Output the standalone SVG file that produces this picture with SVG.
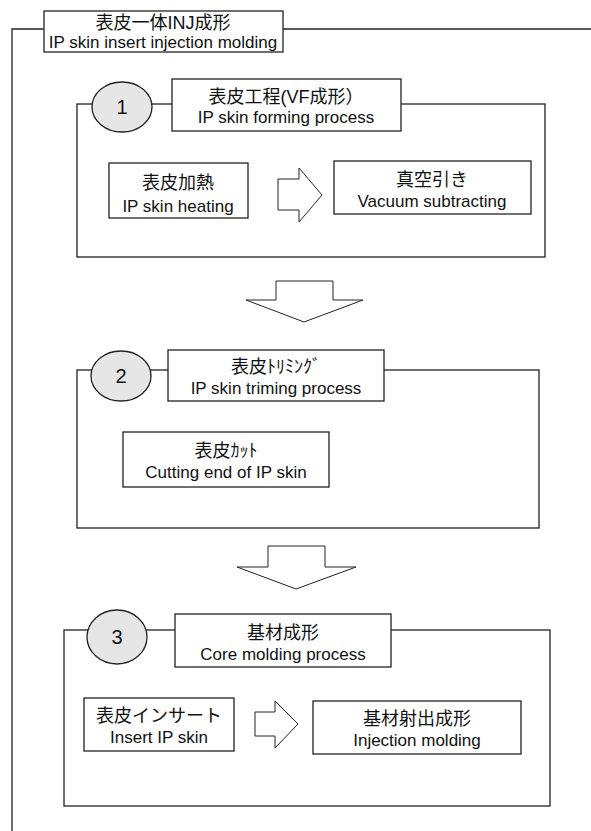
<svg xmlns="http://www.w3.org/2000/svg" width="591" height="831" viewBox="0 0 591 831">
<style>
.ln{fill:none;stroke:#222;stroke-width:1.3}
.bx{fill:#fff;stroke:#222;stroke-width:1.3}
.cc{fill:#e6e6e6;stroke:#222;stroke-width:1.3}
.ar{fill:#fff;stroke:#222;stroke-width:1}
.jp{font-family:"Liberation Sans","Noto Sans CJK JP",sans-serif;font-size:18px;fill:#111;text-anchor:middle}
.en{font-family:"Liberation Sans","Noto Sans CJK JP",sans-serif;font-size:17px;fill:#111;text-anchor:middle}
.num{font-family:"Liberation Sans",sans-serif;font-size:20px;fill:#111;text-anchor:middle}
</style>
<rect width="591" height="831" fill="#fff"/>
<g id="connectors">
<polyline class="ln" points="44,29 12,29 12,831"/>
<line class="ln" x1="283" y1="29" x2="591" y2="29"/>
<polygon id="arrow-r1" class="ar" points="278,179 299,179 299,168 322,195 299,222 299,210 278,210"/>
<polygon id="arrow-d1" class="ar" points="276,281 333,281 333,300 363,300 304,322 246,300 276,300"/>
<polygon id="arrow-d2" class="ar" points="268,546 325,546 325,567 356,567 296,589 237,567 268,567"/>
<polygon id="arrow-r3" class="ar" points="255,712 275,712 275,701 298,724 275,748 275,736 255,736"/>
</g>
<g id="title">
<rect class="bx" x="44" y="11" width="239" height="41"/>
<text class="jp" x="163" y="29">表皮一体INJ成形</text>
<text class="en" x="163" y="48">IP skin insert injection molding</text>
</g>
<g id="section1">
<rect class="ln" x="77" y="104" width="468" height="153"/>
<ellipse class="cc" cx="122" cy="107" rx="30" ry="25"/>
<text class="num" x="122" y="114">1</text>
<rect class="bx" x="172" y="79" width="229" height="52"/>
<text class="jp" x="286" y="103">表皮工程(VF成形）</text>
<text class="en" x="286" y="123">IP skin forming process</text>
</g>
<g id="node-heating">
<rect class="bx" x="109" y="163" width="139" height="55"/>
<text class="jp" x="178" y="189">表皮加熱</text>
<text class="en" x="178" y="212">IP skin heating</text>
</g>
<g id="node-vacuum">
<rect class="bx" x="334" y="161" width="197" height="53"/>
<text class="jp" x="432" y="186">真空引き</text>
<text class="en" x="432" y="207">Vacuum subtracting</text>
</g>
<g id="section2">
<rect class="ln" x="77" y="370" width="462" height="158"/>
<ellipse class="cc" cx="121" cy="376" rx="30" ry="25"/>
<text class="num" x="121" y="383">2</text>
<rect class="bx" x="168" y="350" width="216" height="51"/>
<text class="jp" x="276" y="373">表皮ﾄﾘﾐﾝｸﾞ</text>
<text class="en" x="276" y="394">IP skin triming process</text>
</g>
<g id="node-cut">
<rect class="bx" x="123" y="432" width="206" height="55"/>
<text class="jp" x="226" y="457">表皮ｶｯﾄ</text>
<text class="en" x="226" y="478">Cutting end of IP skin</text>
</g>
<g id="section3">
<rect class="ln" x="64" y="630" width="486" height="176"/>
<ellipse class="cc" cx="117" cy="637" rx="30" ry="27"/>
<text class="num" x="117" y="644">3</text>
<rect class="bx" x="175" y="614" width="216" height="53"/>
<text class="jp" x="283" y="639">基材成形</text>
<text class="en" x="283" y="660">Core molding process</text>
</g>
<g id="node-insert">
<rect class="bx" x="84" y="698" width="150" height="53"/>
<text class="jp" x="159" y="722">表皮インサート</text>
<text class="en" x="159" y="743">Insert IP skin</text>
</g>
<g id="node-injection">
<rect class="bx" x="313" y="701" width="208" height="53"/>
<text class="jp" x="417" y="725">基材射出成形</text>
<text class="en" x="417" y="746">Injection molding</text>
</g>
</svg>
